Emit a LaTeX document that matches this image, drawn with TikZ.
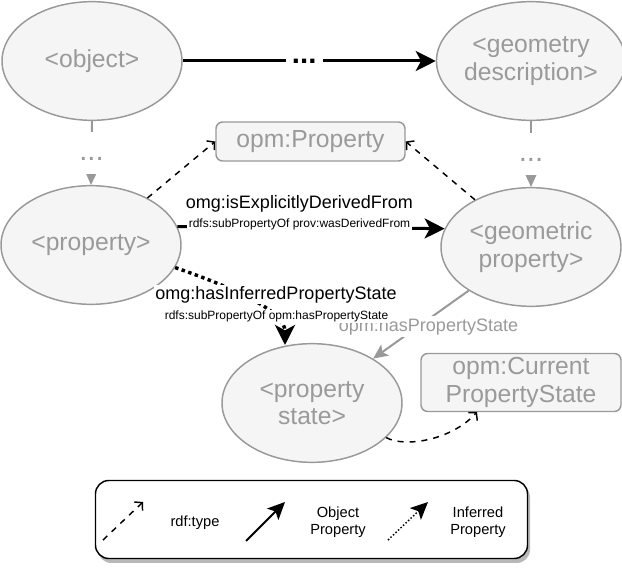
\documentclass[tikz,border=0pt]{standalone}
\usepackage{fontspec}
\setmainfont{Liberation Sans}
\usetikzlibrary{arrows.meta,shapes.geometric}
\definecolor{gstroke}{HTML}{999999}
\definecolor{gfill}{HTML}{F5F5F5}
\definecolor{gtext}{HTML}{9A9A9A}
\begin{document}
\begin{tikzpicture}[x=0.75pt,y=-0.75pt,
  ent/.style={ellipse,draw=gstroke,fill=gfill,line width=1.1pt,text=gtext,
    font=\fontsize{18.5}{20.5}\selectfont,align=center,inner sep=0pt,
    minimum width=135pt,minimum height=89pt},
  cls/.style={rectangle,rounded corners=5pt,draw=gstroke,fill=gfill,line width=1.1pt,
    text=gtext,font=\fontsize{18.5}{20.5}\selectfont,align=center,inner sep=0pt},
  objarrow/.style={line width=2.25pt,-{Stealth[length=15pt,width=15pt,inset=4pt]}},
  infarrow/.style={line width=2.6pt,dash pattern=on 2.6pt off 2.6pt,
    -{Stealth[length=15pt,width=15pt,inset=4pt]}},
  grayarrow/.style={draw=gstroke,line width=1.5pt,
    -{Stealth[length=11pt,width=10pt,inset=2.5pt]}},
  typearrow/.style={line width=1.1pt,dash pattern=on 4.5pt off 4.5pt,
    -{Straight Barb[length=4pt,width=9pt,line width=1.1pt]}},
  biglabel/.style={fill=white,inner sep=1pt,font=\fontsize{13.5}{15}\selectfont},
  smalllabel/.style={fill=white,inner sep=1pt,font=\fontsize{9}{10}\selectfont},
  dots/.style={fill=white,inner sep=0pt,minimum width=28pt,minimum height=31pt,
    font=\fontsize{22}{24}\selectfont},
  legtext/.style={align=center,font=\fontsize{11}{13}\selectfont}
]
\useasboundingbox (0,0) rectangle (622,570);

% entities
\node[ent] (obj) at (92,61) {<object>};
\node[ent] (geodesc) at (531,61) {<geometry\\description>};
\node[ent] (prop) at (91,245) {<property>};
\node[ent] (geomprop) at (531,247) {<geometric\\property>};
\node[ent] (pstate) at (312,403) {<property\\state>};
\node[cls,minimum width=141.75pt,minimum height=29.25pt] (opmprop) at (310.5,141.5) {opm:Property};
\node[cls,minimum width=150pt,minimum height=43.5pt] (cps) at (521,382.5) {opm:Current\\PropertyState};

\coordinate (cpsend) at (477,412);
\coordinate (psend) at (285,345);

% object -> geometry description
\draw[objarrow] (obj.east) -- (geodesc.west)
  node[pos=0.48,dots,text=black,font=\fontsize{22}{24}\selectfont\bfseries] (d1) {...};

% gray "..." paths
\draw[grayarrow] (obj.south) -- (prop.north)
  node[midway,dots,text=gtext] (d2) {\vphantom{Ag}...};
\draw[grayarrow] (geodesc.south) -- (geomprop.north)
  node[midway,dots,text=gtext] (d3) {\vphantom{Ag}...};

% rdf:type
\draw[typearrow] (prop) -- (opmprop.west);
\draw[typearrow] (geomprop) -- (opmprop.east);
\draw[typearrow] (pstate.-25) .. controls (405,448) and (452,440) .. (cpsend);

% explicitly derived
\draw[objarrow] (prop.12) -- (geomprop.168);
\node[biglabel] (l1) at (299.5,203.5) {omg:isExplicitlyDerivedFrom};
\node[smalllabel] (l2) at (299.5,224) {rdfs:subPropertyOf prov:wasDerivedFrom};

% has property state
\draw[grayarrow] (geomprop.-145) -- (pstate.36);
\node[fill=white,inner sep=1.5pt,text=gtext,font=\fontsize{13.5}{15}\selectfont] (l5) at (428.5,326.5) {opm:hasPropertyState};

% inferred
\draw[infarrow] (prop.-15) .. controls (240,290) and (285,312) .. (psend);
\node[biglabel] (l3) at (276,294.5) {omg:hasInferredPropertyState};
\node[smalllabel] (l4) at (276.5,316.5) {rdfs:subPropertyOf opm:hasPropertyState};

% legend
\fill[gstroke!70,rounded corners=10pt] (98,484) rectangle (530,563);
\node[draw=black,fill=white,line width=1.1pt,rounded corners=10pt,
  minimum width=324pt,minimum height=58.5pt] (legend) at (311.5,519.5) {};
\coordinate (a1) at (103,540); \coordinate (b1) at (143,502);
\coordinate (a2) at (246,541); \coordinate (b2) at (285,502);
\coordinate (a3) at (388,540); \coordinate (b3) at (428,502);
\draw[typearrow] (a1) -- (b1);
\draw[line width=1.5pt,-{Stealth[length=13pt,width=12pt,inset=3pt]}] (a2) -- (b2);
\draw[line width=1.1pt,dash pattern=on 1.1pt off 1.5pt,-{Stealth[length=13pt,width=12pt,inset=3pt]}] (a3) -- (b3);
\node[legtext] (t1) at (195,523) {rdf:type};
\node[legtext] (t2) at (338,522) {Object\\Property};
\node[legtext] (t3) at (478,522) {Inferred\\Property};
\end{tikzpicture}
\end{document}
